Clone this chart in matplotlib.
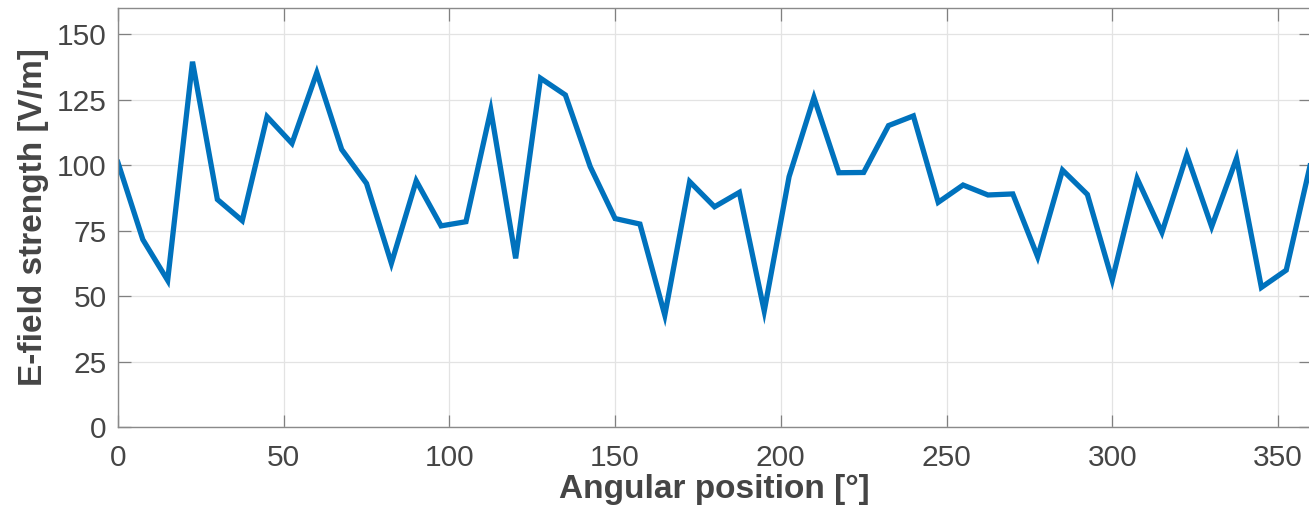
import numpy as np
import matplotlib
matplotlib.use("Agg")
import matplotlib.pyplot as plt

# Angular positions sampled every 7.5 degrees
angle = [0, 7.5, 15, 22.5, 30, 37.5, 45, 52.5, 60, 67.5, 75, 82.5, 90, 97.5,
         105, 112.5, 120, 127.5, 135, 142.5, 150, 157.5, 165, 172.5, 180,
         187.5, 195, 202.5, 210, 217.5, 225, 232.5, 240, 247.5, 255, 262.5,
         270, 277.5, 285, 292.5, 300, 307.5, 315, 322.5, 330, 337.5, 345,
         352.5, 360]
# Measured E-field strength [V/m]
efield = [101, 71.6, 56, 139.5, 86.9, 78.8, 118.5, 108.3, 135.3, 106, 93, 62.5,
          94, 76.8, 78.4, 121, 64.4, 133.2, 126.8, 99.4, 79.6, 77.5, 42.7, 93.7,
          84.1, 89.6, 44.3, 95.6, 125.8, 97.1, 97.2, 115.1, 118.8, 85.8, 92.4,
          88.6, 89, 65, 98.1, 88.8, 56.1, 94.9, 74.3, 103.9, 76.5, 102.6, 53.3,
          59.9, 101.5]

xticks = [0, 50, 100, 150, 200, 250, 300, 350]
yticks = [0, 25, 50, 75, 100, 125, 150]

plt.rcParams['font.family'] = ['Liberation Sans', 'DejaVu Sans']

fig = plt.figure(figsize=(13.09, 5.11), dpi=100)
ax = fig.add_axes([0.0901, 0.1644, 0.9115, 0.8199])

ax.plot(angle, efield, color='#0072BD', linewidth=3.8, solid_joinstyle='miter')

ax.set_xlim(0, 360)
ax.set_ylim(0, 160)
ax.set_xticks(xticks)
ax.set_yticks(yticks)
ax.grid(True, color='#e3e3e3', linewidth=0.9)
ax.set_axisbelow(True)

tick_color = '#454545'
ax.tick_params(direction='in', length=9, width=0.9, color='#808080',
               labelsize=21.5, labelcolor=tick_color, top=True, right=True)
ax.tick_params(axis='x', pad=12)
ax.tick_params(axis='y', pad=8)
for s in ax.spines.values():
    s.set_color('#8a8a8a')
    s.set_linewidth(1.0)

ax.set_xlabel('Angular position [°]', fontsize=24, fontweight='bold',
              color=tick_color, labelpad=2)
ax.set_ylabel('E-field strength [V/m]', fontsize=24, fontweight='bold',
              color=tick_color, labelpad=6)

fig.savefig('out.png', dpi=100)
